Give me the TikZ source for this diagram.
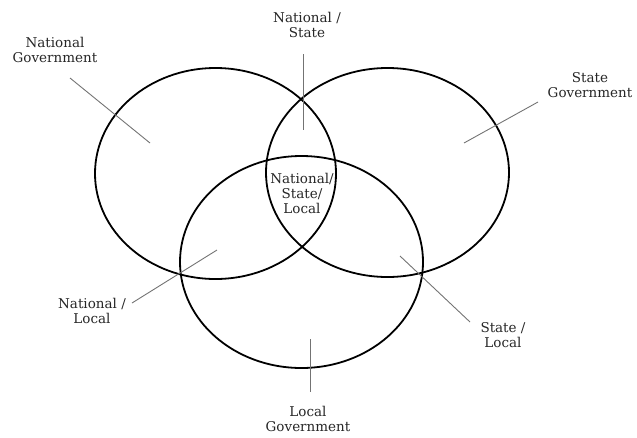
\documentclass[tikz,border=0pt]{standalone}
\usepackage{fontspec}
\setmainfont{DejaVu Serif}
\usetikzlibrary{shapes.geometric}
\begin{document}
\begin{tikzpicture}[x=1pt,y=-1pt,
  set/.style={draw=black,line width=1.8pt,ellipse,inner sep=0pt},
  lead/.style={draw=black!55,line width=0.9pt},
  lbl/.style={align=center,font=\fontsize{13.5}{15}\selectfont,text=black!85,inner sep=0pt}]
\useasboundingbox (0,0) rectangle (637,437);
\node[set,minimum width=241pt,minimum height=211pt] (nat) at (215.5,173.5) {};
\node[set,minimum width=243pt,minimum height=209pt] (sta) at (387.5,172.5) {};
\node[set,minimum width=243pt,minimum height=212pt] (loc) at (301.5,262) {};
% labels
\node[lbl] (tnat) at (55,50) {National\\Government};
\node[lbl] (tns) at (307,25) {National /\\State};
\node[lbl] (tsta) at (590,85) {State\\Government};
\node[lbl] (tnsl) at (302,193) {National/\\State/\\Local};
\node[lbl] (tnl) at (92,311) {National /\\Local};
\node[lbl] (tsl) at (503,335) {State /\\Local};
\node[lbl] (tloc) at (308,419) {Local\\Government};
% leader end points
\coordinate (a1) at (70,78);   \coordinate (a2) at (150,143);
\coordinate (b1) at (303,54);  \coordinate (b2) at (303,130);
\coordinate (c1) at (538,102); \coordinate (c2) at (464,143);
\coordinate (d1) at (132,303); \coordinate (d2) at (217,250);
\coordinate (e1) at (400,256); \coordinate (e2) at (470,322);
\coordinate (f1) at (310,339); \coordinate (f2) at (310,392);
\draw[lead] (a1) -- (a2);
\draw[lead] (b1) -- (b2);
\draw[lead] (c1) -- (c2);
\draw[lead] (d1) -- (d2);
\draw[lead] (e1) -- (e2);
\draw[lead] (f1) -- (f2);
\end{tikzpicture}
\end{document}
